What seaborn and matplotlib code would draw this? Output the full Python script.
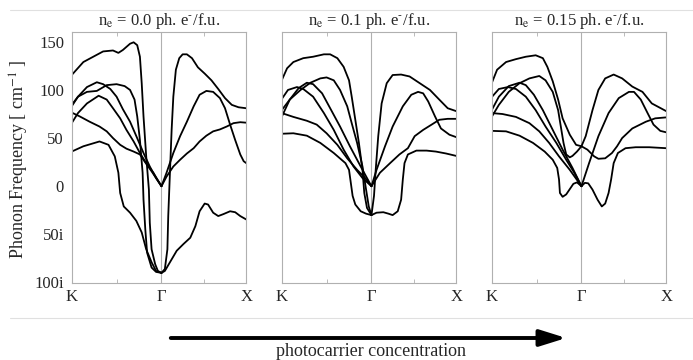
import numpy as np
import pandas as pd
import seaborn as sns
import matplotlib.pyplot as plt
from matplotlib.lines import Line2D
from matplotlib.patches import FancyArrowPatch

sns.set_style('white')
plt.rcParams['font.family'] = ['Liberation Serif', 'DejaVu Serif']
plt.rcParams['mathtext.fontset'] = 'stix'

GX = 0.944  # length of Gamma-X relative to K-Gamma

titles = [r'n$_{\rm e}$ = 0.0 ph. e$^{\text{-}}$/f.u.',
          r'n$_{\rm e}$ = 0.1 ph. e$^{\text{-}}$/f.u.',
          r'n$_{\rm e}$ = 0.15 ph. e$^{\text{-}}$/f.u.']
path_labels = ['K', 'Γ', 'X']
y_ticks = [-100, -50, 0, 50, 100, 150]
y_ticklabels = ['100i', '50i', '0', '50', '100', '150']

# branches as (fraction along segment, frequency cm^-1); imaginary modes negative
p1_kg = [
    [(0, 115.5), (0.13, 129), (0.24, 134.5), (0.35, 140), (0.46, 141), (0.52, 138.5), (0.57, 141.5),
     (0.65, 148), (0.69, 149.5), (0.73, 146.5), (0.76, 134.5), (0.78, 107), (0.80, 72.5), (0.83, 31),
     (0.86, -3.5), (0.87, -38), (0.89, -65.5), (0.93, -81), (0.96, -88), (1, -90)],
    [(0, 84.5), (0.07, 93), (0.17, 98), (0.28, 99), (0.39, 105), (0.5, 106), (0.59, 104), (0.65, 100),
     (0.70, 90), (0.73, 72.5), (0.76, 48), (0.79, 14), (0.80, -14), (0.82, -45), (0.84, -69),
     (0.89, -84.5), (0.94, -89), (1, -90)],
    [(0, 36), (0.13, 41.5), (0.31, 46.5), (0.41, 43), (0.48, 31), (0.52, 14), (0.54, -7), (0.58, -21),
     (0.65, -27.5), (0.72, -36), (0.78, -48), (0.83, -65.5), (0.89, -79), (0.94, -88), (1, -90)],
    [(0, 83), (0.07, 93), (0.17, 103), (0.28, 108), (0.35, 106), (0.43, 101), (0.5, 93), (0.57, 80),
     (0.65, 67), (0.72, 52), (0.8, 34.5), (0.87, 20.5), (0.94, 8.5), (1, 0)],
    [(0, 65.5), (0.07, 76), (0.17, 86), (0.30, 94), (0.39, 90), (0.46, 81), (0.54, 70.5), (0.61, 58.5),
     (0.69, 46.5), (0.76, 34.5), (0.83, 24), (0.91, 14), (1, 0)],
    [(0, 76.5), (0.09, 72.5), (0.2, 67), (0.31, 62), (0.39, 57), (0.46, 50), (0.54, 43), (0.61, 39),
     (0.69, 36), (0.76, 33), (0.81, 26), (0.89, 15.5), (1, 0)],
]
p1_gx = [
    [(0, -90), (0.04, -86), (0.07, -65.5), (0.08, -31), (0.1, 14), (0.12, 58.5), (0.14, 93), (0.17, 121),
     (0.21, 133), (0.25, 137), (0.30, 137), (0.36, 133), (0.43, 123.5), (0.51, 117), (0.59, 110),
     (0.67, 101), (0.75, 91.5), (0.83, 84.5), (0.91, 82), (1, 81)],
    [(0, 0), (0.06, 14), (0.14, 34.5), (0.22, 52), (0.30, 67), (0.38, 83), (0.45, 95), (0.53, 99),
     (0.61, 98), (0.69, 91.5), (0.75, 81), (0.81, 64), (0.87, 48), (0.93, 33), (0.97, 26), (1, 24)],
    [(0, 0), (0.06, 10), (0.14, 20.5), (0.22, 27.5), (0.30, 34), (0.38, 39.5), (0.45, 46.5), (0.53, 52.5),
     (0.61, 57), (0.69, 59), (0.77, 62), (0.85, 65.5), (0.93, 66.5), (1, 66)],
    [(0, -90), (0.04, -88), (0.1, -79), (0.18, -67), (0.26, -60), (0.34, -53.5), (0.4, -41.5), (0.45, -26),
     (0.51, -18), (0.55, -19), (0.61, -27.5), (0.67, -31), (0.73, -29), (0.81, -26), (0.87, -27),
     (0.93, -31), (1, -34.5)],
]
p2_kg = [
    [(0, 110), (0.06, 122.5), (0.13, 129), (0.24, 133), (0.35, 134.5), (0.47, 137), (0.54, 137), (0.62, 133),
     (0.69, 124), (0.75, 110), (0.78, 93), (0.82, 69), (0.86, 45), (0.90, 17), (0.92, -7), (0.95, -22.5),
     (1, -30)],
    [(0, 79), (0.09, 90), (0.21, 100), (0.32, 107.5), (0.43, 112), (0.5, 113), (0.58, 110), (0.65, 100),
     (0.73, 83), (0.78, 65.5), (0.84, 45), (0.90, 20.5), (0.94, -3.5), (0.97, -21), (1, -30)],
    [(0, 90.5), (0.07, 100), (0.17, 103), (0.24, 101), (0.35, 93), (0.47, 76), (0.58, 58.5), (0.69, 38),
     (0.80, 20.5), (0.90, 8.5), (1, 0)],
    [(0, 72), (0.09, 90), (0.19, 102), (0.28, 107.5), (0.35, 106), (0.45, 96.5), (0.54, 81), (0.65, 62),
     (0.76, 41.5), (0.88, 20.5), (1, 0)],
    [(0, 76), (0.13, 72), (0.28, 68), (0.39, 64), (0.5, 55), (0.62, 43), (0.73, 29), (0.84, 17), (0.93, 8.5),
     (1, 0)],
    [(0, 54.5), (0.13, 55), (0.28, 52.5), (0.43, 45), (0.58, 34.5), (0.71, 24), (0.75, 17), (0.77, 3.5),
     (0.79, -10), (0.82, -19), (0.88, -26), (0.94, -28.5), (1, -30)],
]
p2_gx = [
    [(0, -30), (0.03, -10), (0.05, 17), (0.08, 52), (0.12, 86), (0.18, 107), (0.25, 115.5), (0.35, 116),
     (0.45, 114), (0.57, 107), (0.69, 100), (0.80, 90), (0.90, 81), (1, 78)],
    [(0, 0), (0.06, 17), (0.16, 41.5), (0.25, 62), (0.37, 83), (0.47, 95), (0.55, 98), (0.61, 96.5),
     (0.67, 88), (0.75, 72.5), (0.82, 60), (0.92, 53.5), (1, 51)],
    [(0, 0), (0.1, 14), (0.22, 24), (0.33, 33), (0.43, 39.5), (0.51, 52), (0.61, 58.5), (0.71, 64),
     (0.80, 69), (0.90, 70), (1, 70)],
    [(0, -30), (0.06, -27.5), (0.14, -27), (0.2, -28.5), (0.25, -30), (0.31, -26), (0.35, -14), (0.37, 7),
     (0.39, 24), (0.43, 33), (0.53, 37), (0.65, 37), (0.76, 36), (0.88, 34), (1, 31.5)],
]
p3_kg = [
    [(0, 107), (0.06, 121), (0.16, 129), (0.27, 132), (0.38, 134.5), (0.49, 136), (0.57, 133), (0.62, 124),
     (0.68, 109), (0.74, 90), (0.79, 70.5), (0.87, 53.5), (0.94, 43), (1, 41.5)],
    [(0, 72), (0.08, 84.5), (0.19, 98), (0.31, 107), (0.42, 112), (0.53, 114.5), (0.60, 110), (0.68, 98),
     (0.74, 79), (0.77, 62), (0.8, 45), (0.83, 33), (0.87, 30), (0.9, 31.5), (0.95, 36), (1, 41.5)],
    [(0, 92.5), (0.08, 101), (0.18, 103), (0.27, 101), (0.38, 93), (0.49, 79), (0.60, 62), (0.72, 45),
     (0.83, 27.5), (0.92, 14), (1, 0)],
    [(0, 79), (0.08, 93), (0.19, 104), (0.31, 107.5), (0.38, 105), (0.47, 95), (0.57, 79), (0.68, 58.5),
     (0.79, 38), (0.90, 19), (1, 0)],
    [(0, 76), (0.12, 75), (0.27, 72), (0.42, 65.5), (0.53, 57), (0.64, 45), (0.75, 31), (0.87, 17), (1, 0)],
    [(0, 57.5), (0.16, 57), (0.31, 52.5), (0.46, 45), (0.59, 36), (0.68, 27.5), (0.73, 19), (0.75, 7),
     (0.76, -7), (0.79, -11), (0.83, -8.5), (0.87, -3), (0.91, 2.5), (0.95, 4), (1, 0)],
]
p3_gx = [
    [(0, 41.5), (0.05, 52), (0.13, 79), (0.2, 100), (0.28, 112), (0.38, 116), (0.48, 112), (0.6, 103.5),
     (0.72, 98), (0.83, 86), (1, 78)],
    [(0, 41.5), (0.07, 38), (0.15, 31), (0.2, 28.5), (0.28, 29), (0.36, 34.5), (0.42, 41.5), (0.48, 50),
     (0.6, 60), (0.76, 67), (0.87, 70.5), (1, 71.5)],
    [(0, 0), (0.09, 24), (0.2, 52), (0.32, 76), (0.44, 91.5), (0.56, 98), (0.62, 98), (0.7, 90), (0.78, 76),
     (0.85, 64), (0.93, 57.5), (1, 56)],
    [(0, 0), (0.04, 3.5), (0.08, 3), (0.13, -3.5), (0.19, -14), (0.24, -21), (0.28, -18), (0.32, -7),
     (0.35, 7), (0.38, 24), (0.43, 34.5), (0.52, 39.5), (0.64, 40.5), (0.8, 40.5), (1, 39.5)],
]

panels = [(p1_kg, p1_gx), (p2_kg, p2_gx), (p3_kg, p3_gx)]

rows = []
for p, (kg, gx) in enumerate(panels):
    for b, br in enumerate(kg):
        for f, v in br:
            rows.append((p, f'kg{b}', f, v))
    for b, br in enumerate(gx):
        for f, v in br:
            rows.append((p, f'gx{b}', 1 + f * GX, v))
df = pd.DataFrame(rows, columns=['panel', 'branch', 'k', 'freq'])

W, H = 693, 360
fig = plt.figure(figsize=(W / 100, H / 100), dpi=100)
lefts = [71.7, 281.7, 491.7]
axw = 174.5
top, bot = 31.7, 282.5
grey = '#b0b0b0'

for p in range(3):
    ax = fig.add_axes([lefts[p] / W, 1 - bot / H, axw / W, (bot - top) / H])
    sns.lineplot(data=df[df.panel == p], x='k', y='freq', units='branch', estimator=None, sort=False,
                 color='black', lw=1.3, ax=ax, legend=False)
    ax.axvline(1, color=grey, lw=0.8, zorder=0)
    ax.set_xlim(0, 1 + GX)
    ax.set_ylim(-100, 160.5)
    ax.set_xticks([0, 1, 1 + GX])
    ax.set_xticklabels(path_labels, fontsize=12)
    ax.set_xticks([0.5, 1 + GX / 2], minor=True)
    ax.tick_params(axis='x', which='major', length=0, pad=5)
    ax.tick_params(axis='x', which='minor', direction='in', length=3, color=grey, width=0.6,
                   top=True, bottom=True)
    ax.set_yticks(y_ticks)
    ax.tick_params(axis='y', direction='out', length=3.5, color=grey, width=0.6, pad=2)
    if p == 0:
        ax.set_yticklabels(y_ticklabels, fontsize=12)
        ax.set_ylabel('Phonon Frequency [ cm$^{-1}$ ]', fontsize=13)
        ax.yaxis.set_label_coords(-0.235, 0.49)
    else:
        ax.set_yticklabels([])
        ax.set_ylabel('')
    ax.set_xlabel('')
    for s in ax.spines.values():
        s.set_color(grey)
        s.set_linewidth(0.8)
    ax.set_title(titles[p], fontsize=12, pad=5)

fig.add_artist(Line2D([10 / W, 1], [1 - 10 / H] * 2, color='#e0e0e0', lw=0.8))
fig.add_artist(Line2D([10 / W, 1], [1 - 318 / H] * 2, color='#e0e0e0', lw=0.8))
fig.add_artist(FancyArrowPatch((168 / W, 1 - 338 / H), (569 / W, 1 - 338 / H), transform=fig.transFigure,
                               arrowstyle='-|>,head_length=0.8,head_width=0.25', mutation_scale=20,
                               lw=2.8, color='black'))
fig.text(371 / W, 1 - 352 / H, 'photocarrier concentration', ha='center', va='center', fontsize=13)

fig.savefig('out.png', dpi=100)
